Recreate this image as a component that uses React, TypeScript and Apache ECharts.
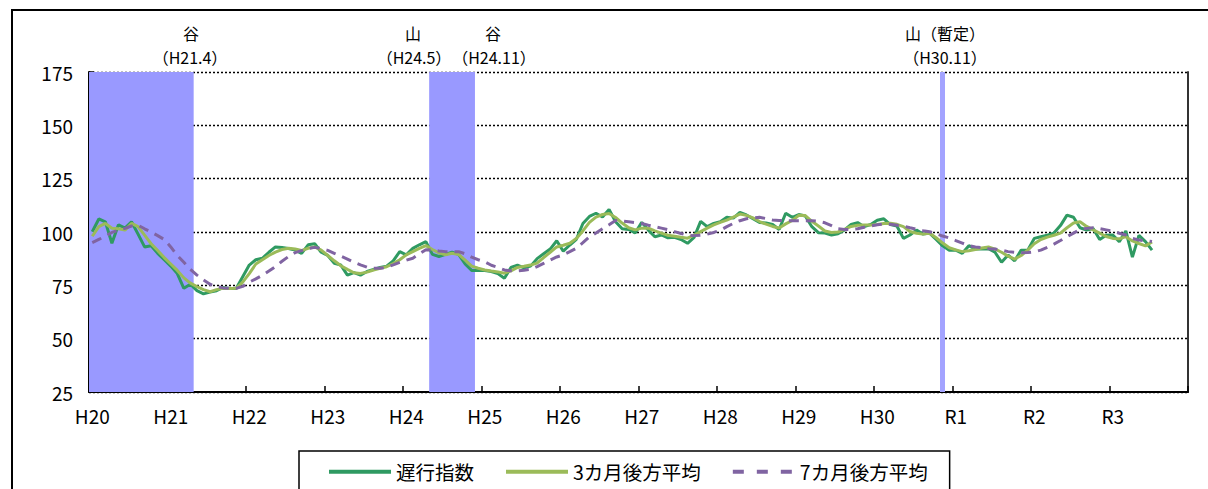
import React, { useEffect, useRef } from "react";
import * as echarts from "echarts";

// ---- data ----
const yearLabels = ["H20", "H21", "H22", "H23", "H24", "H25", "H26", "H27", "H28", "H29", "H30", "R1", "R2", "R3"];
const months = [1, 2, 3, 4, 5, 6, 7, 8, 9, 10, 11, 12];
const categories = yearLabels.flatMap((y) => months.map((m) => `${y}.${m}`));

const yMin = 25;
const yMax = 175;
const yInterval = 25;

const seriesNames = ["遅行指数", "3カ月後方平均", "7カ月後方平均"];

// 遅行指数 (monthly, from H20.1)
const lagging = [
  100.1, 106.1, 104.8, 94.7, 103.4, 101.8, 104.8, 99, 93, 93.6,
  90, 87, 84, 80.5, 73.6, 75.5, 72.5, 71, 71.8, 72.5,
  74, 73.5, 73.5, 79, 84.5, 87, 87.7, 90.5, 93, 92.7,
  92.3, 91.5, 90, 94, 94.5, 90.5, 89, 85.3, 84.5, 79.8,
  81, 79.8, 81.5, 82.5, 83.4, 84, 86.5, 90.8, 89.3, 92.3,
  94, 95.5, 89.5, 88.5, 89.5, 90.5, 89.5, 85, 82, 82,
  82, 81.5, 80.5, 78.3, 83.4, 84.5, 83.2, 84, 87.5, 89.8,
  92, 95.9, 91, 93.9, 96.6, 104, 107.3, 108.8, 107, 110.6,
  104.8, 101.5, 101.2, 99.6, 104.5, 100.9, 97.8, 98.6, 97.3, 97.5,
  96.5, 94.7, 97.5, 105, 102.5, 104, 104.8, 106.9, 106.5, 109.2,
  108, 106.2, 104.5, 104.2, 103.5, 101.2, 108.8, 106.9, 108.2, 107.5,
  102.5, 99.7, 99.5, 98.6, 99.2, 101, 103.5, 104.4, 102.5, 103.5,
  105.5, 106.2, 103.5, 102.8, 97, 98.6, 100.9, 99, 99.5, 96.5,
  93.5, 91.5, 91.5, 90, 93.6, 92, 92, 92.2, 90.5, 85.8,
  89.2, 86.5, 91.5, 91.5, 97, 97.8, 98.5, 99.5, 103, 107.9,
  106.9, 102, 100.9, 101.6, 96.5, 98.5, 98.6, 95.5, 100.5, 88.2,
  98.4, 95.5, 91.5,
];

// 3カ月後方平均
const avg3 = [
  98, 102.5, 104, 101.8, 101.5, 100.9, 104, 102.5, 98.5, 94.5,
  91.3, 88, 85, 82, 78.5, 76, 74.4, 73, 72, 73,
  73.6, 73.5, 73.6, 76.5, 80.5, 85, 87, 89, 90.6, 91.8,
  92.4, 92, 91.3, 92.4, 93, 91.5, 89, 86.5, 84.2, 82.5,
  80.9, 80.6, 81.2, 82.2, 83, 83.7, 85.2, 87, 89.3, 90.8,
  92.3, 93.6, 91.8, 90.2, 89.3, 90, 89.5, 86.8, 84, 83,
  82.2, 81.7, 81.3, 80.7, 81.8, 83.4, 83.9, 84.5, 85.4, 88,
  90.5, 93, 93.8, 94.7, 97, 100.5, 104.5, 107, 108.2, 108.7,
  106.8, 104.2, 102, 101, 101.8, 101.8, 100.5, 99.5, 98.5, 98,
  97.5, 97.1, 98.5, 100.2, 101.8, 103.3, 104.5, 105.6, 107, 108.4,
  107.8, 106.6, 104.9, 103.7, 102.6, 101.9, 103.8, 105.4, 107.8, 107.7,
  105, 102.8, 100.5, 99.8, 100, 101.2, 102.6, 103.2, 103.3, 103.3,
  103.5, 104, 104.1, 103.6, 102.5, 100.2, 99.4, 99, 99.4, 97.3,
  94.8, 92.6, 91.6, 90.8, 91.2, 91.8, 92.5, 93, 92, 90.5,
  88.7, 87.3, 89, 91.5, 94.5, 96.5, 97.6, 98.5, 99.5, 102,
  104.2, 104.8, 102.6, 101, 99.5, 97.9, 97, 96.8, 97.8, 95.8,
  94.6, 93.5, 95.3,
];

// 7カ月後方平均
const avg7 = [
  95, 96.5, 98, 99.8, 100.8, 101.7, 102.8, 103.2, 101.5, 100,
  98.3, 96.5, 93, 89, 85.8, 82.5, 79.8, 77.5, 75.5, 74.4,
  73.8, 73.6, 73.6, 74.5, 76.5, 78, 79.7, 81.7, 83.8, 86.3,
  88.5, 90.3, 91.3, 92.3, 92.8, 92.2, 91.4, 90, 88.7, 87.3,
  85.8, 84.6, 83.5, 83, 83, 83.5, 84.6, 85.8, 86.8, 87.7,
  89.8, 91.7, 91.5, 91.1, 90.8, 90.8, 90.8, 89.8, 88.2, 87,
  86, 84.4, 83.4, 82.2, 81.8, 81.8, 82.1, 82.5, 83.8, 85.3,
  86.8, 88.3, 89.3, 90.8, 92.4, 95, 97.7, 99.5, 101.5, 103.4,
  105.4, 105.2, 104.8, 104.4, 104, 103.2, 102.5, 101.8, 101.1, 100.2,
  99.3, 98.5, 98.3, 98.5, 99, 99.8, 100.8, 102.5, 104, 105.3,
  106.2, 106.6, 106.9, 106.3, 105.6, 105.4, 105.3, 105.3, 105.3, 105.3,
  105.3, 105, 104.3, 103, 101.5, 101.2, 101.2, 101.5, 102.2, 102.8,
  103.4, 103.7, 103.6, 103.2, 102.8, 102, 101.3, 100.6, 100.1, 99.2,
  98.1, 97.2, 96, 94.8, 93.6, 93, 92.6, 92.2, 92, 91.5,
  90.8, 90.5, 90.3, 90.4, 90.7, 91.5, 92.8, 94.3, 96, 97.8,
  99.5, 101.2, 101.7, 102, 101.6, 101, 100.4, 99.4, 98.6, 97,
  96.2, 95.9, 95.5,
];

// 景気後退期 (山→谷) shading and provisional peak
const contractionPeriods = [
  ["H20.1", "H21.4"],
  ["H24.5", "H24.11"],
];
const provisionalPeak = "H30.11";

// turning point annotations
const annotationTexts = ["谷", "（H21.4）", "山", "（H24.5）", "谷", "（H24.11）", "山（暫定）", "（H30.11）"];
const titleText = "（遅行指数の推移）";

const FONT = "'Noto Sans CJK JP',sans-serif";

export default function App() {
  const ref = useRef<HTMLDivElement>(null);

  useEffect(() => {
    document.body.style.margin = "0";
    if (!ref.current) return;
    const chart = echarts.init(ref.current, null, { renderer: "svg" });

    const bandData = contractionPeriods.map(([a, b]) => [categories.indexOf(a), categories.indexOf(b)]);

    const annPos = [
      [191, 33], [190, 57],
      [413, 33], [414, 57],
      [493, 33], [494, 57],
      [945, 33], [945, 57],
    ];

    const graphics: any[] = [
      {
        type: "rect",
        shape: { x: 12, y: 10, width: 1220, height: 500 },
        style: { fill: "none", stroke: "#000", lineWidth: 2 },
        silent: true,
        z: 100,
      },
      {
        type: "text",
        x: 62,
        y: -21,
        style: { text: titleText, font: `20px ${FONT}`, fill: "#000" },
        silent: true,
      },
      ...annotationTexts.map((t, i) => ({
        type: "text",
        x: annPos[i][0],
        y: annPos[i][1],
        style: {
          text: t,
          font: `16px ${FONT}`,
          fill: "#000",
          align: "center",
          verticalAlign: "middle",
        },
        silent: true,
      })),
    ];

    const colors = ["#2f9a62", "#9bbb59", "#8064a2"];

    chart.setOption({
      animation: false,
      backgroundColor: "#fff",
      grid: { left: 89, right: 20, top: 72, bottom: 97, containLabel: false },
      legend: {
        data: [
          { name: seriesNames[0], lineStyle: { width: 4 } },
          { name: seriesNames[1], lineStyle: { width: 4 } },
          { name: seriesNames[2], lineStyle: { width: 4, type: [11, 13] } },
        ],
        left: 299,
        top: 451,
        padding: [11, 22, 14, 28],
        itemGap: 30,
        itemWidth: 62,
        itemHeight: 14,
        borderColor: "#000",
        borderWidth: 1.5,
        backgroundColor: "#fff",
        itemStyle: { opacity: 0 },
        textStyle: { fontSize: 19.5, color: "#000", fontFamily: FONT },
      },
      xAxis: {
        type: "category",
        data: categories,
        boundaryGap: true,
        axisLine: { show: true, lineStyle: { color: "#000", width: 2 } },
        axisTick: { show: true, inside: true, length: 6, interval: 11, lineStyle: { color: "#000", width: 1.5 } },
        axisLabel: {
          interval: 11,
          margin: 14,
          fontSize: 19,
          color: "#000",
          fontFamily: FONT,
          formatter: (v: string) => v.split(".")[0],
        },
        splitLine: { show: false },
      },
      yAxis: [
        {
          type: "value",
          min: yMin,
          max: yMax,
          interval: yInterval,
          axisLine: { show: true, lineStyle: { color: "#000", width: 2 } },
          axisTick: { show: true, inside: true, length: 5, lineStyle: { color: "#000", width: 1.5 } },
          axisLabel: { margin: 16, fontSize: 19, color: "#000", fontFamily: FONT },
          splitLine: { show: true, lineStyle: { color: "#000", width: 1.3, type: [2, 2] } },
        },
        {
          type: "value",
          position: "right",
          min: yMin,
          max: yMax,
          interval: yInterval,
          axisLine: { show: true, lineStyle: { color: "#333", width: 2 } },
          axisTick: { show: false },
          axisLabel: { show: false },
          splitLine: { show: false },
        },
      ],
      series: [
        {
          name: "shade",
          type: "custom",
          data: bandData,
          encode: { x: [0, 1] },
          silent: true,
          z: 1,
          renderItem: (params: any, api: any) => {
            const s = api.coord([api.value(0), yMax]);
            const e = api.coord([api.value(1), yMin]);
            const bw = api.size([1, 0])[0];
            return {
              type: "rect",
              shape: { x: s[0] - bw / 2, y: s[1], width: e[0] - s[0] + bw, height: e[1] - s[1] },
              style: { fill: "#9999ff" },
            };
          },
        },
        {
          name: seriesNames[0],
          type: "line",
          data: lagging,
          symbol: "none",
          showSymbol: false,
          color: colors[0],
          lineStyle: { color: colors[0], width: 3 },
          z: 3,
          markLine: {
            silent: true,
            symbol: ["none", "none"],
            label: { show: false },
            lineStyle: { color: "#a3a3ff", width: 5, type: "solid" },
            data: [{ xAxis: provisionalPeak }],
            z: 1,
          },
        },
        {
          name: seriesNames[1],
          type: "line",
          data: avg3,
          symbol: "none",
          showSymbol: false,
          color: colors[1],
          lineStyle: { color: colors[1], width: 3 },
          z: 4,
        },
        {
          name: seriesNames[2],
          type: "line",
          data: avg7,
          symbol: "none",
          showSymbol: false,
          color: colors[2],
          lineStyle: { color: colors[2], width: 3, type: [10, 7] },
          z: 5,
        },
      ],
      graphic: graphics,
    });

    return () => chart.dispose();
  }, []);

  return <div ref={ref} style={{ width: 1208, height: 489 }} />;
}
